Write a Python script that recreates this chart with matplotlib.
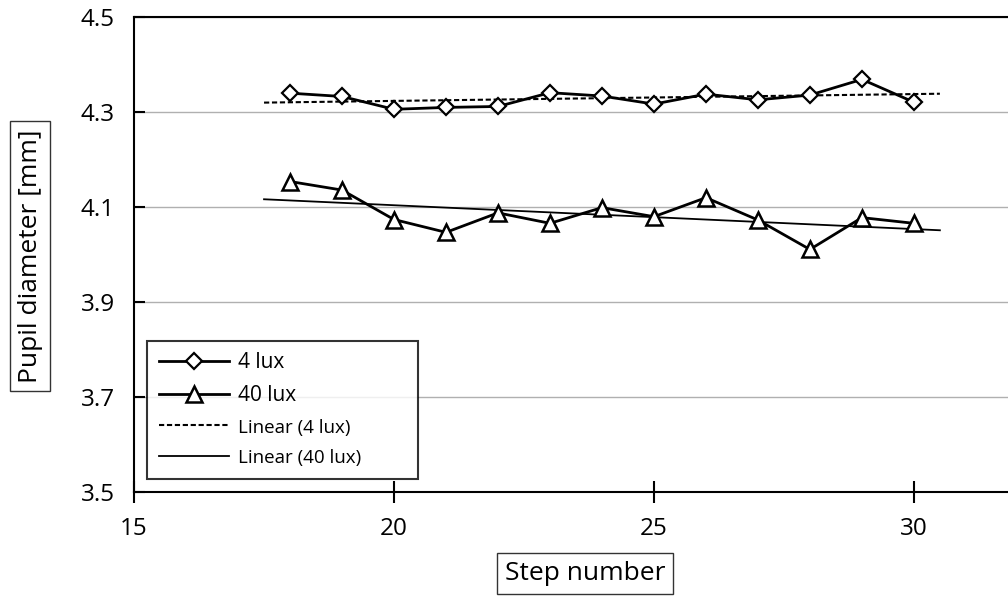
import numpy as np
import matplotlib
matplotlib.use("Agg")
import matplotlib.pyplot as plt

plt.rcParams['font.family'] = ['Open Sans', 'DejaVu Sans']

steps = [18, 19, 20, 21, 22, 23, 24, 25, 26, 27, 28, 29, 30]
lux4 = [4.339, 4.332, 4.305, 4.309, 4.311, 4.340, 4.333, 4.316, 4.337, 4.325, 4.335, 4.368, 4.320]
lux40 = [4.153, 4.135, 4.073, 4.046, 4.087, 4.065, 4.098, 4.079, 4.119, 4.072, 4.010, 4.077, 4.065]

# trendline range (excel-style forecast 0.5 both ways)
trend_x = np.array([17.5, 30.5])

fig = plt.figure(figsize=(10.08, 5.96), dpi=100)
ax = fig.add_axes([0.133, 0.175, 0.867, 0.797])

ax.plot(steps, lux4, color='black', lw=2, marker='D', ms=8, mfc='white',
        mec='black', mew=1.6, label='4 lux', zorder=4)
ax.plot(steps, lux40, color='black', lw=2, marker='^', ms=11.5, mfc='white',
        mec='black', mew=1.8, label='40 lux', zorder=4)

p4 = np.polyfit(steps, lux4, 1)
p40 = np.polyfit(steps, lux40, 1)
ax.plot(trend_x, np.polyval(p4, trend_x), color='black', lw=1.5,
        ls=(0, (2.5, 1.3)), label='Linear (4 lux)', zorder=3)
ax.plot(trend_x, np.polyval(p40, trend_x), color='black', lw=1.3,
        label='Linear (40 lux)', zorder=3)

ax.set_xlim(15, 31.81)
ax.set_ylim(3.5, 4.5)
ax.set_xticks([15, 20, 25, 30])
ax.set_yticks([3.5, 3.7, 3.9, 4.1, 4.3, 4.5])
ax.set_yticklabels(['3.5', '3.7', '3.9', '4.1', '4.3', '4.5'])
ax.yaxis.grid(True, color='#b0b0b0', lw=1)
ax.set_axisbelow(True)

for s in ['left', 'bottom', 'top']:
    ax.spines[s].set_linewidth(1.5)
ax.spines['right'].set_visible(False)
ax.tick_params(axis='y', direction='in', length=8, width=1.5, pad=14, labelsize=17.5)
ax.tick_params(axis='x', direction='inout', length=16, width=1.5, pad=10, labelsize=17.5)

box = dict(boxstyle='square,pad=0.3', fc='white', ec='#333333', lw=1)
ax.text(-0.119, 0.496, 'Pupil diameter [mm]', transform=ax.transAxes, rotation=90,
        ha='center', va='center', fontsize=19, bbox=box)
ax.text(0.516, -0.173, 'Step number', transform=ax.transAxes,
        ha='center', va='center', fontsize=19, bbox=box)

leg = ax.legend(loc='lower left', bbox_to_anchor=(0.015, 0.027, 0.31, 0.29),
                mode='expand', frameon=True, fancybox=False, fontsize=15,
                handlelength=3.4, handletextpad=0.4, labelspacing=0.58,
                borderpad=0.55, borderaxespad=0)
leg.get_frame().set_edgecolor('black')
leg.get_frame().set_linewidth(1.5)
for t in leg.get_texts()[2:]:
    t.set_fontsize(13.5)

fig.savefig('out.png', dpi=100)
